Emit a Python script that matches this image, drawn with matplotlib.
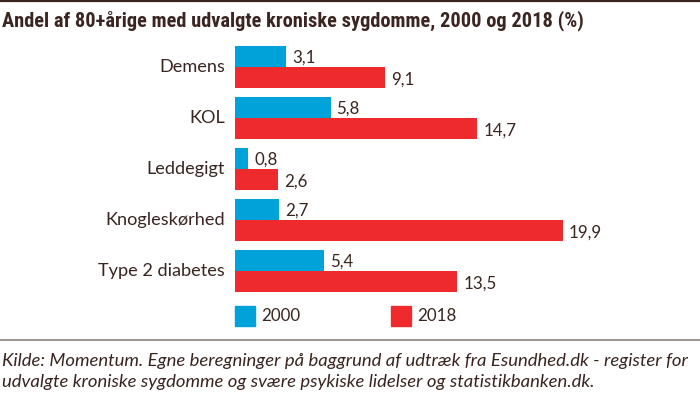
import matplotlib
matplotlib.use('Agg')
import matplotlib.pyplot as plt
import matplotlib.font_manager as fm
from matplotlib.patches import Rectangle
from matplotlib.lines import Line2D

# data
categories = ['Demens', 'KOL', 'Leddegigt', 'Knogleskørhed', 'Type 2 diabetes']
values_2000 = [3.1, 5.8, 0.8, 2.7, 5.4]
values_2018 = [9.1, 14.7, 2.6, 19.9, 13.5]
series_names = ['2000', '2018']

title = 'Andel af 80+årige med udvalgte kroniske sygdomme, 2000 og 2018 (%)'
source = ['Kilde: Momentum. Egne beregninger på baggrund af udtræk fra Esundhed.dk - register for',
          'udvalgte kroniske sygdomme og svære psykiske lidelser og statistikbanken.dk.']

BLUE = '#00a3d9'
RED = '#ee2a2c'
TEXT = '#3a2520'

installed = {f.name for f in fm.fontManager.ttflist}

def pick(*names):
    for n in names:
        if n in installed:
            return n
    return 'DejaVu Sans'

TITLE_FONT = pick('Liberation Sans Narrow', 'Roboto Condensed', 'Lato')
BODY_FONT = pick('Lato', 'Open Sans', 'DejaVu Sans')

W, H = 700, 393
fig = plt.figure(figsize=(W / 100, H / 100), dpi=100)
renderer = fig.canvas.get_renderer()

def px(x, y):
    ''' pixel coords (from top left) to figure fraction '''
    return x / W, 1 - y / H

def fit(t, target):
    ''' scale font size so the text is target pixels wide '''
    w = t.get_window_extent(renderer).width
    t.set_fontsize(t.get_fontsize() * target / w)

# axes: bars start at x=235, groups 51 px apart
ax = fig.add_axes([235 / W, 1 - 298 / H, 455 / W, 258 / H])
ax.set_xlim(0, 455 / 16.47)
ax.set_ylim(4 + 27 / 51, -27 / 51)
ax.axis('off')

pos = list(range(len(categories)))
h = 21 / 51
ax.barh([p - h / 2 for p in pos], values_2000, height=h, color=BLUE)
ax.barh([p + h / 2 for p in pos], values_2018, height=h, color=RED)

for p, v in zip(pos, values_2000):
    ax.annotate(f'{v:.1f}'.replace('.', ','), (v, p - h / 2), xytext=(6, -1),
                textcoords='offset pixels', va='center', ha='left',
                fontsize=12.2, family=BODY_FONT, color=TEXT)
for p, v in zip(pos, values_2018):
    ax.annotate(f'{v:.1f}'.replace('.', ','), (v, p + h / 2), xytext=(6, -2),
                textcoords='offset pixels', va='center', ha='left',
                fontsize=12.2, family=BODY_FONT, color=TEXT)

labels = []
for p, c in zip(pos, categories):
    labels.append(ax.annotate(c, (0, p), xytext=(-10, 0), textcoords='offset pixels',
                              va='center', ha='right', fontsize=12.5,
                              family=BODY_FONT, color=TEXT))
fit_size = labels[3].get_window_extent(renderer).width
for t in labels:
    t.set_fontsize(t.get_fontsize() * 120 / fit_size)

# title and rules
fig.add_artist(Line2D([0, 1], [1 - 1.2 / H] * 2, color=TEXT, lw=1.6))
t = fig.text(*px(2, 21), title, fontsize=13, fontweight='bold',
             family=TITLE_FONT, color=TEXT, va='center', ha='left')
fit(t, 580)

# legend
for x0, name, col in [(235, series_names[0], BLUE), (391, series_names[1], RED)]:
    fig.add_artist(Rectangle(px(x0, 326), 20 / W, 20 / H, color=col))
    fig.text(*px(x0 + 26, 316), name, fontsize=12.2, family=BODY_FONT,
             color=TEXT, va='center', ha='left')

fig.add_artist(Line2D([0, 1], [1 - 340 / H] * 2, color='#8c807b', lw=1.2))

s1 = fig.text(*px(2, 366), source[0], fontsize=11.5, style='italic',
              family=BODY_FONT, color=TEXT, va='baseline', ha='left')
fit(s1, 686)
fig.text(*px(2, 386.5), source[1], fontsize=s1.get_fontsize(), style='italic',
         family=BODY_FONT, color=TEXT, va='baseline', ha='left')

fig.savefig('out.png', dpi=100)
